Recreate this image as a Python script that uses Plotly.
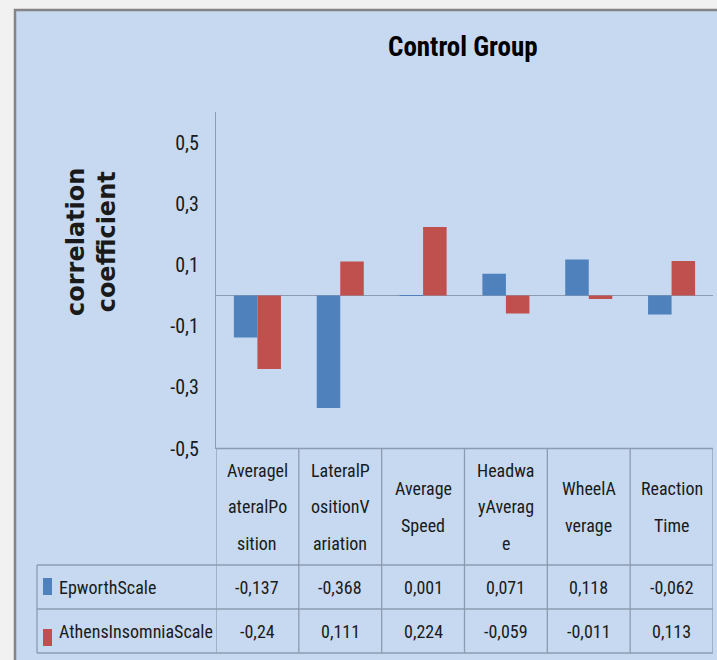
import plotly.graph_objects as go

# Driving measures and their correlation with the two sleepiness scales
categories = ["AveragelateralPosition", "LateralPositionVariation", "AverageSpeed",
              "HeadwayAverage", "WheelAverage", "ReactionTime"]
category_lines = [["Averagel", "ateralPo", "sition"],
                  ["LateralP", "ositionV", "ariation"],
                  ["Average", "Speed"],
                  ["Headwa", "yAverag", "e"],
                  ["WheelA", "verage"],
                  ["Reaction", "Time"]]
series_names = ["EpworthScale", "AthensInsomniaScale"]
epworth = [-0.137, -0.368, 0.001, 0.071, 0.118, -0.062]
athens = [-0.24, 0.111, 0.224, -0.059, -0.011, 0.113]
tick_vals = [-0.5, -0.3, -0.1, 0.1, 0.3, 0.5]
tick_text = ["-0,5", "-0,3", "-0,1", "0,1", "0,3", "0,5"]

W, H = 717, 660
BLUE, RED = "#4f81bd", "#c0504d"
CHART_BG = "#c6d9f0"
GRID = "#8d9bb1"
NARROW = "Roboto Condensed, Liberation Sans Narrow, Arial Narrow, Roboto, sans-serif"


def px_x(p):
    return p / W


def px_y(p):
    return 1 - p / H


def fmt(v):
    return f"{v:g}".replace(".", ",")


# plot area in pixels
PL, PR, PT, PB = 216, 713, 112, 448.5
ROW1_TOP, ROW2_TOP, TABLE_BOTTOM = 565, 609, 653
LEGEND_LEFT = 37

fig = go.Figure()
for name, vals, col in [(series_names[0], epworth, BLUE), (series_names[1], athens, RED)]:
    fig.add_trace(go.Bar(x=list(range(len(categories))), y=vals, name=name,
                         marker=dict(color=col, line=dict(width=0)),
                         showlegend=False))

shapes = []
# chart area background with border
shapes.append(dict(type="rect", xref="paper", yref="paper", layer="below",
                   x0=px_x(15), x1=px_x(W + 10), y0=px_y(H + 10), y1=px_y(10),
                   fillcolor=CHART_BG, line=dict(color="#858585", width=2.5)))

line_style = dict(color=GRID, width=1.3)
# horizontal table rules
shapes.append(dict(type="line", xref="paper", yref="paper",
                   x0=px_x(PL), x1=px_x(PR), y0=px_y(PB), y1=px_y(PB), line=line_style))
for yy in [ROW1_TOP, ROW2_TOP, TABLE_BOTTOM]:
    shapes.append(dict(type="line", xref="paper", yref="paper",
                       x0=px_x(LEGEND_LEFT), x1=px_x(PR), y0=px_y(yy), y1=px_y(yy),
                       line=line_style))
# vertical table rules on category boundaries
for k in range(len(categories) + 1):
    shapes.append(dict(type="line", xref="x", yref="paper",
                       x0=k - 0.5, x1=k - 0.5, y0=px_y(PB), y1=px_y(TABLE_BOTTOM),
                       line=line_style))
shapes.append(dict(type="line", xref="paper", yref="paper",
                   x0=px_x(LEGEND_LEFT), x1=px_x(LEGEND_LEFT),
                   y0=px_y(ROW1_TOP), y1=px_y(TABLE_BOTTOM), line=line_style))
# legend keys in the table
for (t, b), col in zip([(578, 595), (629, 646)], [BLUE, RED]):
    shapes.append(dict(type="rect", xref="paper", yref="paper",
                       x0=px_x(43), x1=px_x(52), y0=px_y(b), y1=px_y(t),
                       fillcolor=col, line=dict(width=0)))

annotations = []
txt_font = dict(family=NARROW, size=18, color="#1a1a1a")
# title
annotations.append(dict(text="<b>Control Group</b>", xref="paper", yref="paper",
                        x=px_x(463), y=px_y(47), xanchor="center", yanchor="middle",
                        showarrow=False,
                        font=dict(family=NARROW, size=27, color="#000000")))
# y axis title
annotations.append(dict(text="<b>correlation<br>coefficient</b>", xref="paper", yref="paper",
                        x=px_x(91), y=px_y(242), xanchor="center", yanchor="middle",
                        textangle=-90, showarrow=False,
                        font=dict(family="DejaVu Sans, Verdana, sans-serif", size=24,
                                  color="#1a1a1a")))
# header cells: wrapped category names
header_mid = (PB + ROW1_TOP) / 2
line_gap = 36.5
for i, lines in enumerate(category_lines):
    n = len(lines)
    for j, ln in enumerate(lines):
        yy = header_mid + (j - (n - 1) / 2) * line_gap
        annotations.append(dict(text=ln, xref="x", yref="paper", x=i, y=px_y(yy),
                                xanchor="center", yanchor="middle", showarrow=False,
                                font=txt_font))
# value rows
row_mids = [(ROW1_TOP + ROW2_TOP) / 2, (ROW2_TOP + TABLE_BOTTOM) / 2]
for name, vals, ym in zip(series_names, [epworth, athens], row_mids):
    annotations.append(dict(text=name, xref="paper", yref="paper", x=px_x(57), y=px_y(ym),
                            xanchor="left", yanchor="middle", showarrow=False, font=txt_font))
    for i, v in enumerate(vals):
        annotations.append(dict(text=fmt(v), xref="x", yref="paper", x=i, y=px_y(ym),
                                xanchor="center", yanchor="middle", showarrow=False,
                                font=txt_font))

fig.update_layout(
    width=W, height=H,
    margin=dict(l=0, r=0, t=0, b=0, pad=0, autoexpand=False),
    paper_bgcolor="#f1f1f1",
    plot_bgcolor="rgba(0,0,0,0)",
    barmode="group", bargap=0.432, bargroupgap=0,
    shapes=shapes, annotations=annotations,
    showlegend=False,
    xaxis=dict(domain=[px_x(PL), px_x(PR)], range=[-0.5, len(categories) - 0.5],
               showticklabels=False, showgrid=False, zeroline=False, showline=False,
               ticks="", fixedrange=True, automargin=False),
    yaxis=dict(domain=[px_y(PB), px_y(PT)], range=[-0.5, 0.6],
               tickvals=tick_vals, ticktext=tick_text, ticks="",
               ticklabelstandoff=12, automargin=False,
               tickfont=dict(family=NARROW, size=20, color="#1a1a1a"),
               showgrid=False, showline=True, linecolor=GRID, linewidth=1.3,
               zeroline=True, zerolinecolor=GRID, zerolinewidth=1.3, fixedrange=True),
)

fig.write_html("out.html")
